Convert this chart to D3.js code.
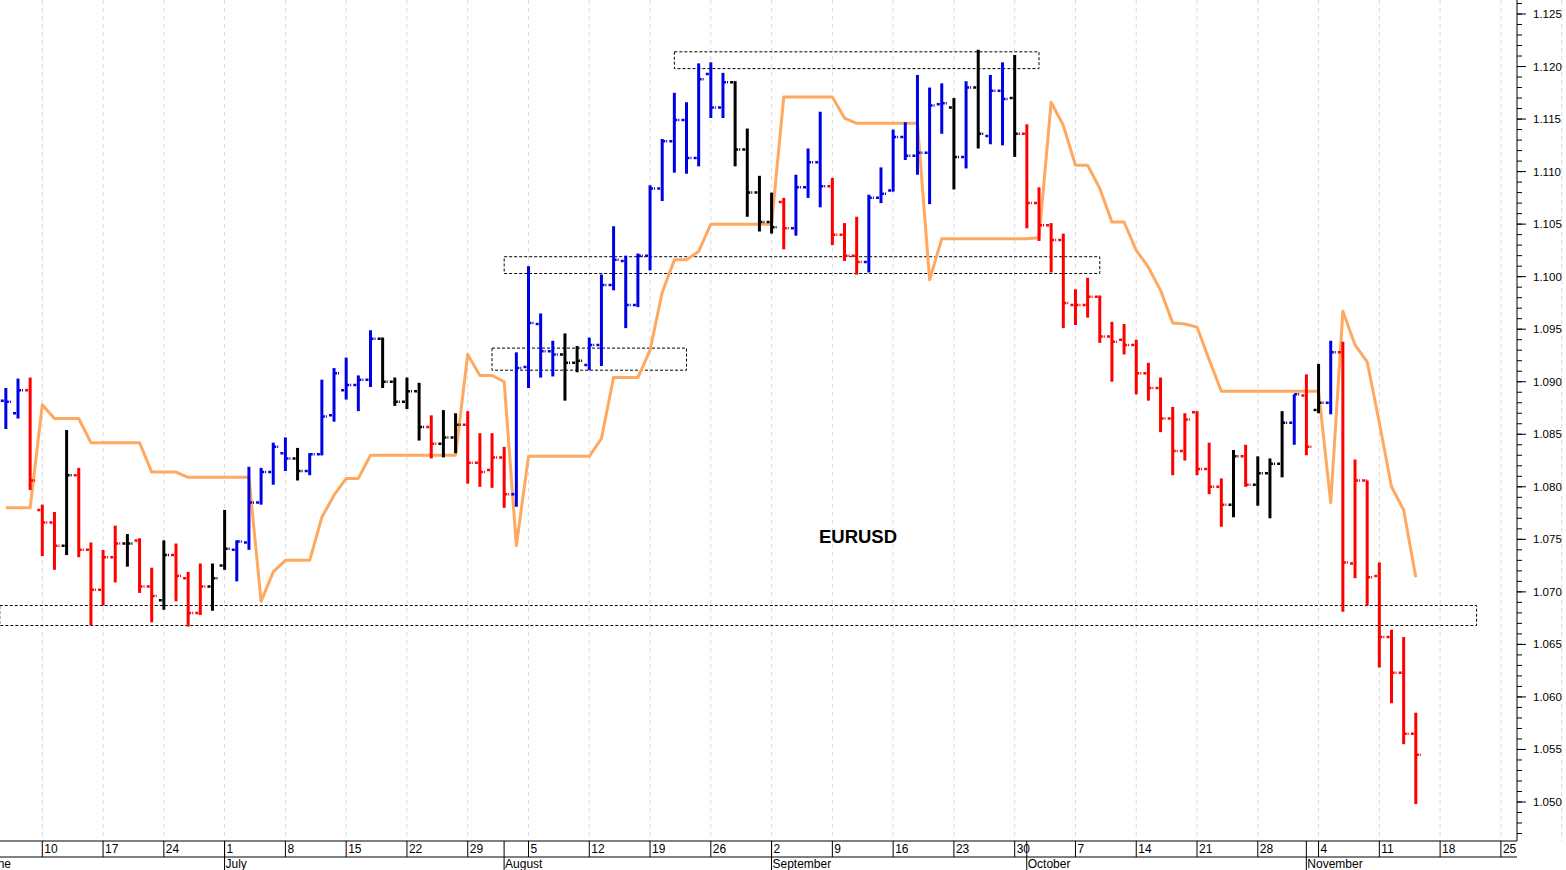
<!DOCTYPE html>
<html><head><meta charset="utf-8">
<script src="https://cdn.jsdelivr.net/npm/d3@7/dist/d3.min.js"></script>
<style>body{margin:0;background:#fff;}svg{display:block;font-family:Arial,"Liberation Sans",sans-serif;}</style>
</head><body><svg id="c" width="1566" height="870"></svg>
<script>
const startDate = new Date(2024,5,5); // first bar: 5 June 2024, weekdays only
const nBars = 117;
const open = [1.0882,1.0870,1.0892,1.0778,1.0766,1.0744,1.0811,1.0740,1.0702,1.0733,
1.0746,1.0749,1.0705,1.0692,1.0735,1.0713,1.0680,1.0705,1.0725,1.0740,
1.0747,1.0785,1.0814,1.0832,1.0827,1.0815,1.0831,1.0868,1.0892,1.0897,
1.0902,1.0941,1.0900,1.0881,1.0891,1.0857,1.0841,1.0847,1.0859,1.0823,
1.0816,1.0828,1.0793,1.0914,1.0955,1.0929,1.0926,1.0918,1.0916,1.0935,
1.0992,1.1015,1.0973,1.1020,1.1084,1.1129,1.1149,1.1113,1.1193,1.1161,
1.1185,1.1121,1.1080,1.1052,1.1071,1.1046,1.1085,1.1109,1.1086,1.1040,
1.1020,1.1014,1.1075,1.1082,1.1133,1.1115,1.1118,1.1164,1.1161,1.1114,
1.1180,1.1134,1.1177,1.1170,1.1136,1.1070,1.1049,1.1035,1.0973,1.0973,
1.0981,1.0943,1.0940,1.0935,1.0908,1.0894,1.0865,1.0834,1.0871,1.0817,
1.0800,1.0783,1.0829,1.0802,1.0813,1.0822,1.0861,1.0887,1.0873,1.0880,
1.0928,1.0727,1.0806,1.0715,1.0657,1.0623,1.0565];
const high = [1.0894,1.0903,1.0904,1.0783,1.0776,1.0854,1.0818,1.0747,1.0740,1.0763,
1.0755,1.0751,1.0723,1.0749,1.0746,1.0719,1.0727,1.0727,1.0778,1.0749,
1.0819,1.0818,1.0842,1.0847,1.0837,1.0832,1.0902,1.0913,1.0923,1.0906,
1.0949,1.0942,1.0904,1.0904,1.0899,1.0868,1.0873,1.0870,1.0872,1.0851,
1.0851,1.0838,1.0928,1.1010,1.0965,1.0939,1.0946,1.0934,1.0942,1.1002,
1.1048,1.1020,1.1022,1.1087,1.1131,1.1175,1.1166,1.1203,1.1204,1.1194,
1.1186,1.1141,1.1096,1.1080,1.1075,1.1097,1.1122,1.1157,1.1094,1.1051,
1.1057,1.1078,1.1104,1.1140,1.1147,1.1192,1.1180,1.1184,1.1170,1.1186,
1.1216,1.1192,1.1204,1.1211,1.1145,1.1085,1.1051,1.1041,1.0988,1.0999,
1.0982,1.0957,1.0955,1.0940,1.0918,1.0904,1.0876,1.0870,1.0872,1.0842,
1.0808,1.0835,1.0840,1.0829,1.0827,1.0872,1.0888,1.0907,1.0917,1.0939,
1.0938,1.0826,1.0806,1.0728,1.0664,1.0657,1.0585];
const low = [1.0855,1.0865,1.0797,1.0734,1.0721,1.0735,1.0733,1.0668,1.0687,1.0709,
1.0724,1.0699,1.0671,1.0683,1.0691,1.0667,1.0678,1.0682,1.0721,1.0710,
1.0740,1.0783,1.0802,1.0815,1.0806,1.0811,1.0830,1.0862,1.0883,1.0872,
1.0895,1.0894,1.0877,1.0874,1.0844,1.0827,1.0828,1.0832,1.0803,1.0800,
1.0799,1.0780,1.0781,1.0894,1.0904,1.0905,1.0882,1.0909,1.0911,1.0915,
1.0987,1.0951,1.0971,1.1006,1.1072,1.1099,1.1098,1.1105,1.1151,1.1151,
1.1105,1.1057,1.1043,1.1041,1.1026,1.1039,1.1075,1.1066,1.1030,1.1015,
1.1002,1.1004,1.1070,1.1081,1.1111,1.1097,1.1069,1.1136,1.1083,1.1103,
1.1122,1.1126,1.1125,1.1114,1.1046,1.1034,1.1004,1.0951,1.0954,1.0961,
1.0937,1.0900,1.0926,1.0888,1.0882,1.0852,1.0811,1.0825,1.0811,1.0793,
1.0762,1.0771,1.0800,1.0782,1.0770,1.0809,1.0840,1.0830,1.0870,1.0869,
1.0681,1.0713,1.0687,1.0628,1.0594,1.0555,1.0498];
const close = [1.0881,1.0892,1.0806,1.0766,1.0744,1.0811,1.0740,1.0702,1.0733,1.0746,
1.0746,1.0705,1.0696,1.0735,1.0715,1.0680,1.0705,1.0713,1.0741,1.0748,
1.0785,1.0814,1.0838,1.0827,1.0815,1.0831,1.0867,1.0908,1.0897,1.0902,
1.0941,1.0900,1.0881,1.0891,1.0857,1.0841,1.0847,1.0859,1.0823,1.0814,
1.0828,1.0793,1.0913,1.0956,1.0929,1.0926,1.0918,1.0920,1.0935,1.0992,
1.1016,1.0973,1.1020,1.1084,1.1129,1.1149,1.1113,1.1188,1.1161,1.1185,
1.1121,1.1080,1.1052,1.1047,1.1046,1.1085,1.1109,1.1086,1.1040,1.1020,
1.1014,1.1075,1.1079,1.1133,1.1115,1.1118,1.1163,1.1165,1.1114,1.1180,
1.1136,1.1177,1.1169,1.1136,1.1070,1.1049,1.1035,1.0975,1.0973,1.0981,
1.0943,1.0938,1.0935,1.0908,1.0894,1.0865,1.0834,1.0864,1.0817,1.0800,
1.0783,1.0829,1.0802,1.0813,1.0822,1.0861,1.0888,1.0838,1.0880,1.0928,
1.0728,1.0806,1.0714,1.0657,1.0623,1.0565,1.0545];
const barState = "bbrrrkrrrrkrrkrrrkkbbbbbkbbbbbbkkkkrkkrrrrbbbbkkbbbbbbbbbbbbkkkkrbbbrrrbbbbbbbkbkbbkrrrrrrrrrrrrrrrrrkrkkkbrkbrrrrrrr";
const trail = [1.0780,1.0780,1.0780,1.0878,1.0865,1.0865,1.0865,1.0842,1.0842,1.0842,
1.0842,1.0842,1.0814,1.0814,1.0814,1.0809,1.0809,1.0809,1.0809,1.0809,
1.0809,1.0691,1.0719,1.0730,1.0730,1.0730,1.0771,1.0792,1.0808,1.0808,
1.0830,1.0830,1.0830,1.0830,1.0830,1.0830,1.0830,1.0830,1.0926,1.0906,
1.0906,1.0900,1.0744,1.0829,1.0829,1.0829,1.0829,1.0829,1.0829,1.0846,
1.0904,1.0904,1.0904,1.0930,1.0985,1.1016,1.1016,1.1024,1.1050,1.1050,
1.1050,1.1050,1.1050,1.1050,1.1171,1.1171,1.1171,1.1171,1.1171,1.1151,
1.1146,1.1146,1.1146,1.1146,1.1146,1.1146,1.0997,1.1036,1.1036,1.1036,
1.1036,1.1036,1.1036,1.1036,1.1036,1.1037,1.1166,1.1144,1.1106,1.1106,
1.1084,1.1052,1.1052,1.1025,1.1009,1.0987,1.0956,1.0955,1.0952,1.0921,
1.0891,1.0891,1.0891,1.0891,1.0891,1.0891,1.0891,1.0891,1.0891,1.0785,
1.0967,1.0935,1.0919,1.0861,1.0800,1.0778,1.0714];
// zones: [start bar, end bar, top, bottom]
const zones = [[55,85,1.1214,1.1198],[41,90,1.1019,1.1003],[40,56,1.0932,1.0911],[-0.5,121,1.0687,1.0668]];
const yTicks = d3.range(1.050,1.1251,0.005);
const title = "EURUSD";
const colors = {b:"#0000e6", r:"#ff0000", k:"#000000"};

const dates=[]; {let d=new Date(startDate); while(dates.length<nBars+12){ if(d.getDay()>0&&d.getDay()<6) dates.push(new Date(d)); d.setDate(d.getDate()+1);} }
const bars = d3.range(nBars).map(i=>({i,o:open[i],h:high[i],l:low[i],c:close[i],s:barState[i],t:trail[i]}));

const svg=d3.select("#c");
const x=d3.scaleLinear().domain([3,116]).range([42.3,1415.8]);
const y=d3.scaleLinear().domain([1.050,1.125]).range([802,14]);
const plotR=1517, axisY=841;

const mondays=dates.map((d,i)=>({d,i})).filter(o=>o.d.getDay()===1);
svg.append("g").selectAll("line").data(mondays).join("line")
 .attr("x1",o=>x(o.i)).attr("x2",o=>x(o.i)).attr("y1",0).attr("y2",axisY)
 .attr("stroke","#d8d8e0").attr("stroke-dasharray","4,4").attr("stroke-width",1);

svg.append("g").selectAll("rect").data(zones).join("rect")
 .attr("x",z=>x(z[0])).attr("width",z=>x(z[1])-x(z[0]))
 .attr("y",z=>y(z[2])).attr("height",z=>y(z[3])-y(z[2]))
 .attr("fill","none").attr("stroke","#000").attr("stroke-dasharray","3,2").attr("stroke-width",1);

svg.append("path").datum(bars).attr("fill","none").attr("stroke","#ffa860").attr("stroke-width",3)
 .attr("stroke-linejoin","round")
 .attr("d",d3.line().x(b=>x(b.i)).y(b=>y(b.t)));

const g=svg.append("g");
bars.forEach(b=>{
  const col=colors[b.s], cx=x(b.i);
  g.append("line").attr("x1",cx).attr("x2",cx).attr("y1",y(b.h)).attr("y2",y(b.l)).attr("stroke",col).attr("stroke-width",3);
  g.append("line").attr("x1",cx-5).attr("x2",cx).attr("y1",y(b.o)).attr("y2",y(b.o)).attr("stroke",col).attr("stroke-width",2.5).attr("stroke-dasharray","3,1");
  g.append("line").attr("x1",cx).attr("x2",cx+5).attr("y1",y(b.c)).attr("y2",y(b.c)).attr("stroke",col).attr("stroke-width",2.5).attr("stroke-dasharray","3,1");
});

svg.append("text").attr("x",858).attr("y",543).attr("text-anchor","middle").attr("font-weight","bold").attr("font-size",18.5).text(title);

svg.append("line").attr("x1",plotR).attr("x2",plotR).attr("y1",0).attr("y2",axisY).attr("stroke","#000");
const minor=d3.range(1.047,1.1261,0.001);
svg.append("g").selectAll("line").data(minor).join("line")
 .attr("x1",plotR).attr("x2",plotR+5).attr("y1",v=>y(v)).attr("y2",v=>y(v)).attr("stroke","#000");
svg.append("g").selectAll("line").data(yTicks).join("line")
 .attr("x1",plotR).attr("x2",plotR+9).attr("y1",v=>y(v)).attr("y2",v=>y(v)).attr("stroke","#000");
svg.append("g").selectAll("text").data(yTicks).join("text")
 .attr("x",1533).attr("y",v=>y(v)+4).attr("font-size",11.5).text(v=>d3.format(".3f")(v));

svg.append("line").attr("x1",0).attr("x2",plotR).attr("y1",axisY).attr("y2",axisY).attr("stroke","#000");
svg.append("line").attr("x1",0).attr("x2",plotR).attr("y1",857).attr("y2",857).attr("stroke","#000");
const visM=mondays.filter(o=>x(o.i)>0 && x(o.i)<plotR);
svg.append("g").selectAll("line").data(visM).join("line")
 .attr("x1",o=>x(o.i)).attr("x2",o=>x(o.i)).attr("y1",axisY).attr("y2",857).attr("stroke","#000");
svg.append("g").selectAll("text").data(visM).join("text")
 .attr("x",o=>x(o.i)+2).attr("y",853).attr("font-size",12).text(o=>o.d.getDate());
const monthNames=["January","February","March","April","May","June","July","August","September","October","November","December"];
const mStarts=dates.map((d,i)=>({d,i})).filter((o,k,a)=>k>0 && o.d.getMonth()!==a[k-1].d.getMonth() && x(o.i)<plotR);
svg.append("g").selectAll("line").data(mStarts).join("line")
 .attr("x1",o=>x(o.i-0.5)+6).attr("x2",o=>x(o.i-0.5)+6).attr("y1",axisY).attr("y2",870).attr("stroke","#000");
svg.append("g").selectAll("text").data(mStarts).join("text")
 .attr("x",o=>x(o.i-0.5)+7).attr("y",868).attr("font-size",12).text(o=>monthNames[o.d.getMonth()]);
svg.append("text").attr("x",11).attr("y",868).attr("text-anchor","end").attr("font-size",12).text(monthNames[dates[0].getMonth()]);
</script></body></html>
